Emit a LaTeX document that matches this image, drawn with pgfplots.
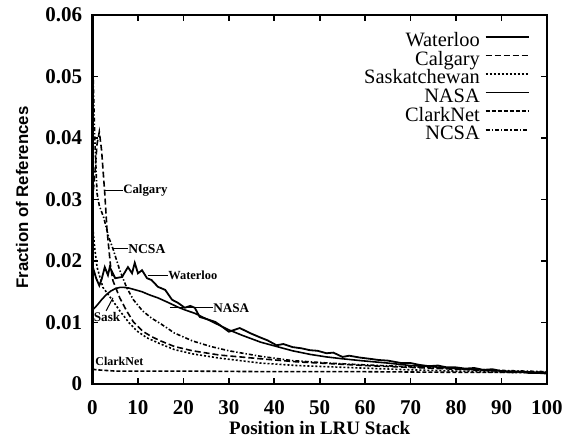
\documentclass[border=0pt]{standalone}
\usepackage{pgfplots}
\pgfplotsset{compat=1.18}
\usepackage{fontspec}
\setmainfont{Liberation Serif}
\setsansfont{Liberation Sans}
\begin{document}
\begin{tikzpicture}
\useasboundingbox (-46.25pt,-27.5pt) rectangle (241.25pt,192pt);
\begin{axis}[
  scale only axis, width=227.25pt, height=184.5pt,
  xmin=0, xmax=100, ymin=0, ymax=0.06,
  scaled y ticks=false, scaled x ticks=false,
  axis line style={line width=1.1pt},
  xtick={0,10,20,30,40,50,60,70,80,90,100},
  xticklabels={0,10,20,30,40,50,60,70,80,90,100},
  ytick={0,0.01,0.02,0.03,0.04,0.05,0.06},
  yticklabels={0,0.01,0.02,0.03,0.04,0.05,0.06},
  tick align=inside, major tick length=3pt,
  tick style={line width=0.8pt, black},
  ticklabel style={font=\fontsize{10.5}{12}\selectfont\bfseries},
  yticklabel style={inner sep=0pt, xshift=-5pt},
  xticklabel style={inner sep=0pt, yshift=-8pt},
  xlabel={Position in LRU Stack},
  ylabel={Fraction of References},
  every axis x label/.style={at={(axis description cs:0.5,-0.118)}, anchor=center,
    font=\fontsize{9.5}{11}\selectfont\bfseries},
  every axis y label/.style={at={(axis description cs:-0.155,0.505)}, anchor=center, rotate=90,
    font=\fontsize{8.4}{10}\sffamily\bfseries},
  legend style={at={(rel axis cs:0.9626,0.953)}, anchor=north east, draw=none, fill=none,
    inner sep=0pt, column sep=2.5pt, row sep=0pt,
    font=\fontsize{10.2}{9}\selectfont,
    nodes={inner sep=0pt, text height=7pt, text depth=2.3pt, text width=60pt, align=right}},
  legend cell align=right, legend plot pos=right,
  legend image code/.code={\draw[#1] (0pt,2.6pt) -- (21.5pt,2.6pt);},
]
% Waterloo
\addplot[black, line width=0.9pt] coordinates {
(0,0.0192)(0.8,0.0172)(1.5,0.0160)(2,0.0170)(2.7,0.0190)(3.4,0.0177)(3.8,0.0190)(5,0.0172)(6.5,0.0174)(7.8,0.0190)(8.7,0.0180)(9.3,0.0197)(10,0.0180)(10.9,0.0185)(12,0.0172)(13,0.0169)(14.4,0.0158)(16,0.0153)(17.5,0.0137)(18.8,0.0132)(20.3,0.0124)(21.5,0.0127)(22.5,0.0124)(23.6,0.0109)(25.8,0.0104)(27,0.0101)(28,0.0096)(30,0.0085)(32.4,0.0091)(34.6,0.0083)(36.8,0.0076)(38.5,0.0071)(40.5,0.0063)(42,0.0065)(44,0.0060)(46,0.0058)(47.8,0.0055)(49.5,0.0054)(51.5,0.0050)(53,0.0051)(55,0.0044)(56.5,0.0046)(58.8,0.0043)(61,0.0041)(63,0.0039)(65,0.0038)(68,0.0034)(70,0.0034)(72,0.0031)(74,0.0029)(76,0.0030)(78,0.0027)(80,0.0027)(82,0.0025)(84,0.0026)(86,0.0023)(88,0.0024)(90,0.0021)(92,0.0019)(94,0.0020)(96,0.0018)(98,0.0018)(100,0.0017)
};
\addlegendentry{Waterloo}
% Calgary
\addplot[black, line width=0.8pt, dash pattern=on 3pt off 1.5pt] coordinates {
(0,0.030)(0.5,0.034)(1,0.039)(1.5,0.041)(2,0.038)(2.7,0.031)(3.2,0.025)(4,0.019)(4.5,0.0168)(6,0.0140)(7.5,0.0119)(9,0.0101)(11,0.0086)(13,0.0077)(15,0.0070)(18,0.0061)(22,0.0054)(28,0.0047)(37,0.0041)(45,0.0036)(60,0.0030)(70,0.0027)(80,0.0024)(90,0.0021)(100,0.0019)
};
\addlegendentry{Calgary}
% Saskatchewan
\addplot[black, line width=0.8pt, dash pattern=on 1pt off 1pt] coordinates {
(0,0.026)(0.5,0.022)(1,0.019)(2.3,0.0157)(3.5,0.0145)(4.5,0.0135)(6,0.0119)(8,0.0100)(9.8,0.0086)(12,0.0075)(15,0.0065)(18,0.0056)(22,0.0049)(28,0.0042)(37,0.0034)(45,0.0030)(59,0.0026)(70,0.0023)(80,0.0021)(90,0.0019)(100,0.0018)
};
\addlegendentry{Saskatchewan}
% NASA
\addplot[black, line width=0.8pt] coordinates {
(0,0.0120)(1,0.0128)(2,0.0137)(3,0.0145)(4,0.0151)(5,0.0155)(6,0.0157)(7,0.0157)(8,0.0156)(9,0.0154)(10.9,0.0150)(12.5,0.0145)(14.4,0.0140)(16.5,0.0133)(18.8,0.0125)(20.5,0.0120)(22.5,0.0115)(25,0.0106)(27.5,0.0097)(30,0.0088)(33,0.0079)(37,0.0068)(40,0.0062)(44,0.0054)(48,0.0048)(51.5,0.0044)(55,0.0041)(59,0.0038)(65,0.0034)(70,0.0030)(75,0.0028)(80,0.0025)(85,0.0023)(90,0.0021)(95,0.0020)(100,0.0018)
};
\addlegendentry{NASA}
% ClarkNet
\addplot[black, line width=0.8pt, dash pattern=on 2pt off 1pt] coordinates {
(0,0.0024)(1,0.0023)(5,0.0021)(20,0.0021)(40,0.0020)(60,0.0020)(80,0.0019)(100,0.0019)
};
\addlegendentry{ClarkNet}
% NCSA
\addplot[black, line width=0.8pt, dash pattern=on 2pt off 1pt on 0.7pt off 1pt] coordinates {
(0,0.054)(0.5,0.040)(1,0.031)(1.5,0.029)(2.5,0.027)(3.5,0.024)(4.5,0.022)(6,0.0185)(7.5,0.0157)(9,0.0137)(11,0.0119)(13,0.0107)(15,0.0098)(18,0.0083)(22,0.0070)(26,0.0061)(30,0.0054)(37,0.0045)(44,0.0038)(52,0.0034)(60,0.0031)(70,0.0028)(80,0.0025)(90,0.0022)(100,0.0020)
};
\addlegendentry{NCSA}
% annotations
\draw[line width=0.5pt] (axis cs:2.7,0.0315) -- (axis cs:6.7,0.0315);
\node[anchor=west, inner sep=0pt, font=\fontsize{6.4}{7}\selectfont\bfseries] at (axis cs:6.7,0.0315) {Calgary};
\draw[line width=0.5pt] (axis cs:4.5,0.022) -- (axis cs:7.8,0.022);
\node[anchor=west, inner sep=0pt, font=\fontsize{6.8}{7}\selectfont\bfseries] at (axis cs:7.8,0.022) {NCSA};
\draw[line width=0.5pt] (axis cs:12.2,0.0176) -- (axis cs:16.6,0.0176);
\node[anchor=west, inner sep=0pt, font=\fontsize{6.2}{7}\selectfont\bfseries] at (axis cs:16.6,0.0176) {Waterloo};
\draw[line width=0.5pt] (axis cs:17,0.0124) -- (axis cs:26.5,0.0124);
\node[anchor=west, inner sep=0pt, font=\fontsize{6.6}{7}\selectfont\bfseries] at (axis cs:26.5,0.0124) {NASA};
\draw[line width=0.5pt] (axis cs:3.0,0.0119) -- (axis cs:4.5,0.0140);
\node[anchor=center, inner sep=0pt, font=\fontsize{6.6}{7}\selectfont\bfseries] at (axis cs:3.2,0.0109) {Sask};
\node[anchor=west, inner sep=0pt, font=\fontsize{6}{7}\selectfont\bfseries] at (axis cs:0.55,0.0036) {ClarkNet};
\end{axis}
\end{tikzpicture}
\end{document}
